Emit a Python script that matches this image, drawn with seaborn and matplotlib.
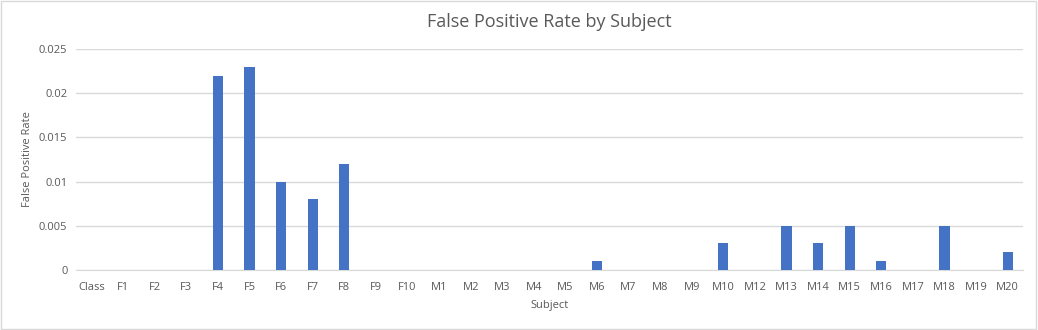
import seaborn as sns
import matplotlib.pyplot as plt
import pandas as pd

# data
subjects = ['Class', 'F1', 'F2', 'F3', 'F4', 'F5', 'F6', 'F7', 'F8', 'F9', 'F10',
            'M1', 'M2', 'M3', 'M4', 'M5', 'M6', 'M7', 'M8', 'M9', 'M10', 'M12',
            'M13', 'M14', 'M15', 'M16', 'M17', 'M18', 'M19', 'M20']
fp_rate = [0, 0, 0, 0, 0.022, 0.023, 0.010, 0.008, 0.012, 0, 0,
           0, 0, 0, 0, 0, 0.001, 0, 0, 0, 0.003, 0,
           0.005, 0.003, 0.005, 0.001, 0, 0.005, 0, 0.002]
y_ticks = [0, 0.005, 0.01, 0.015, 0.02, 0.025]
y_tick_labels = ['0', '0.005', '0.01', '0.015', '0.02', '0.025']

df = pd.DataFrame({'Subject': subjects, 'False Positive Rate': fp_rate})

sns.set_style('white')
plt.rcParams['font.family'] = ['Open Sans', 'DejaVu Sans']
grey = '#595959'

fig = plt.figure(figsize=(10.38, 3.3), dpi=100)
ax = fig.add_axes([0.073, 0.182, 0.913, 0.669])

sns.barplot(data=df, x='Subject', y='False Positive Rate', color='#4472C4',
            width=0.32, saturation=1, linewidth=0, ax=ax, zorder=3)

ax.set_ylim(0, 0.025)
ax.set_xlim(-0.5, len(subjects) - 0.5)
ax.set_yticks(y_ticks)
ax.set_yticklabels(y_tick_labels)
ax.yaxis.grid(True, color='#d9d9d9', linewidth=1, zorder=0)
ax.tick_params(axis='both', length=0, labelsize=8, colors=grey, pad=6)
ax.tick_params(axis='x', pad=9)
for side in ['top', 'right', 'left']:
    ax.spines[side].set_visible(False)
ax.spines['bottom'].set_color('#d9d9d9')

ax.set_xlabel('Subject', fontsize=8, color=grey, labelpad=5)
ax.set_ylabel('False Positive Rate', fontsize=8, color=grey, labelpad=4)
ax.set_title('False Positive Rate by Subject', fontsize=13, color=grey, pad=16)

# light border round the chart
fig.patches.append(plt.Rectangle((0.001, 0.002), 0.997, 0.995, transform=fig.transFigure,
                                 fill=False, edgecolor='#d9d9d9', linewidth=1))

fig.savefig('out.png', dpi=100)
